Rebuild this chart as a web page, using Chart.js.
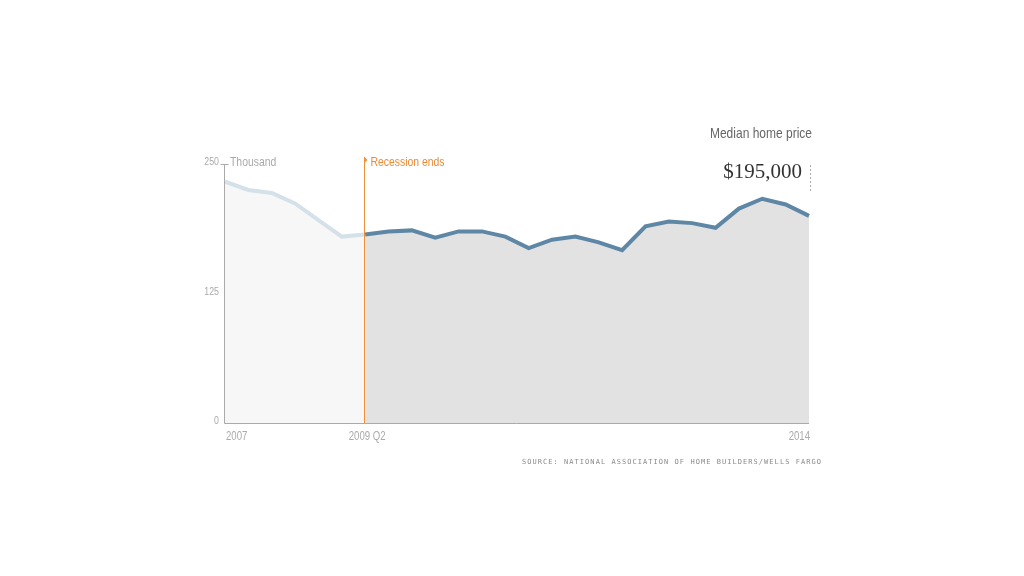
<!DOCTYPE html>
<html>
<head>
<meta charset="utf-8">
<script src="https://cdn.jsdelivr.net/npm/chart.js@4"></script>
<style>
  html, body { margin: 0; padding: 0; background: #fff; }
  #wrap { width: 1024px; height: 576px; position: relative; }
</style>
</head>
<body>
<div id="wrap"><canvas id="c" width="1024" height="576"></canvas></div>
<script>
// Quarterly periods, 2007 Q4 .. 2014 Q1
const categories = ["2007","2008 Q1","2008 Q2","2008 Q3","2008 Q4","2009 Q1","2009 Q2","2009 Q3","2009 Q4","2010 Q1","2010 Q2","2010 Q3","2010 Q4","2011 Q1","2011 Q2","2011 Q3","2011 Q4","2012 Q1","2012 Q2","2012 Q3","2012 Q4","2013 Q1","2013 Q2","2013 Q3","2013 Q4","2014"];
// Median home price, thousand dollars
const beforeRecessionEnd = [233, 225, 222, 212, 196, 180, 182];
const afterRecessionEnd = [182, 185, 186, 179, 185, 185, 180, 169, 177, 180, 174.5, 167, 190, 194.5, 193, 188.5, 207, 216.5, 211, 200];
const yTicks = [0, 125, 250];
const xTickLabels = {0: "2007", 6: "2009 Q2", 25: "2014"};
const recessionIndex = 6;
const yUnit = "Thousand";
const markerLabel = "Recession ends";
const title = "Median home price";
const lastValueLabel = "$195,000";
const sourceText = "SOURCE: NATIONAL ASSOCIATION OF HOME BUILDERS/WELLS FARGO";

const dataA = categories.map((_, i) => i < beforeRecessionEnd.length ? beforeRecessionEnd[i] : null);
const dataB = categories.map((_, i) => i >= recessionIndex ? afterRecessionEnd[i - recessionIndex] : null);

const SANS = '"Liberation Sans", Arial, sans-serif';
const SQUEEZE = 0.8;

// draw text horizontally condensed (still real text)
function narrowText(ctx, text, x, y, align, size, color) {
  ctx.save();
  ctx.font = size + 'px ' + SANS;
  ctx.fillStyle = color;
  ctx.textBaseline = 'middle';
  ctx.textAlign = align;
  ctx.translate(x, y);
  ctx.scale(SQUEEZE, 1);
  ctx.fillText(text, 0, 0);
  ctx.restore();
}

const decor = {
  id: 'decor',
  afterDatasetsDraw(chart) {
    const ctx = chart.ctx;
    const x = chart.scales.x, y = chart.scales.y;
    const area = chart.chartArea;
    ctx.save();
    // recession line
    const rx = Math.round(x.getPixelForValue(recessionIndex)) - 0.5;
    ctx.strokeStyle = '#f0913a';
    ctx.lineWidth = 1;
    ctx.beginPath();
    ctx.moveTo(rx, area.top - 7);
    ctx.lineTo(rx, area.bottom);
    ctx.stroke();

    // axes
    ctx.strokeStyle = '#aaaaaa';
    ctx.lineWidth = 1;
    const ax = Math.round(area.left) - 0.5;
    const ay = Math.round(area.bottom) + 0.5;
    ctx.beginPath();
    ctx.moveTo(ax, area.top);
    ctx.lineTo(ax, ay);
    ctx.lineTo(area.right, ay);
    ctx.stroke();
    // top tick
    const ty = Math.round(y.getPixelForValue(250)) + 0.5;
    ctx.beginPath();
    ctx.moveTo(ax - 4, ty);
    ctx.lineTo(ax + 4, ty);
    ctx.stroke();

    // y tick labels
    yTicks.forEach(v => {
      narrowText(ctx, String(v), area.left - 6, y.getPixelForValue(v) - 2, 'right', 11, '#aaaaaa');
    });
    // unit label
    narrowText(ctx, yUnit, area.left + 5, y.getPixelForValue(250) - 2, 'left', 13, '#aaaaaa');

    // x tick labels
    Object.keys(xTickLabels).forEach(k => {
      const i = +k;
      const px = x.getPixelForValue(i);
      let align = 'center', dx = 2;
      if (i === 0) { align = 'left'; dx = 1; }
      else if (i === categories.length - 1) { align = 'right'; dx = 1; }
      narrowText(ctx, xTickLabels[k], px + dx, area.bottom + 13, align, 12, '#aaaaaa');
    });

    // recession marker
    ctx.fillStyle = '#f0913a';
    ctx.beginPath();
    ctx.moveTo(rx, area.top - 7);
    ctx.lineTo(rx + 3, area.top - 4);
    ctx.lineTo(rx, area.top - 1);
    ctx.closePath();
    ctx.fill();
    narrowText(ctx, markerLabel, rx + 6, area.top - 2, 'left', 13, '#ec8a35');

    // title
    narrowText(ctx, title, area.right + 3, area.top - 30, 'right', 15, '#666666');

    // last value
    ctx.fillStyle = '#333333';
    ctx.font = '21px "Liberation Serif", "DejaVu Serif", serif';
    ctx.textAlign = 'right';
    ctx.textBaseline = 'middle';
    ctx.fillText(lastValueLabel, area.right - 7, area.top + 8);

    // dotted leader
    ctx.strokeStyle = '#aaaaaa';
    ctx.setLineDash([2, 2]);
    ctx.beginPath();
    ctx.moveTo(area.right + 1.5, area.top + 1);
    ctx.lineTo(area.right + 1.5, area.top + 29);
    ctx.stroke();
    ctx.setLineDash([]);

    // source
    ctx.fillStyle = '#8a8a8a';
    ctx.font = '7px "DejaVu Sans Mono", monospace';
    ctx.textAlign = 'right';
    if ('letterSpacing' in ctx) ctx.letterSpacing = '1.05px';
    ctx.fillText(sourceText, area.right + 13, area.bottom + 39);
    ctx.restore();
  }
};

new Chart(document.getElementById('c'), {
  type: 'line',
  data: {
    labels: categories,
    datasets: [
      {
        data: dataB,
        borderColor: '#5e87a6',
        backgroundColor: '#e2e2e2',
        borderWidth: 4,
        fill: 'origin',
        pointRadius: 0,
        tension: 0,
        spanGaps: false,
        borderJoinStyle: 'miter',
        order: 1
      },
      {
        data: dataA,
        borderColor: '#d5e1e9',
        backgroundColor: '#f7f7f7',
        borderWidth: 4,
        fill: 'origin',
        pointRadius: 0,
        tension: 0,
        spanGaps: false,
        order: 2
      }
    ]
  },
  options: {
    responsive: false,
    animation: false,
    layout: { padding: { left: 225, right: 215, top: 164, bottom: 152.7 } },
    plugins: { legend: { display: false }, tooltip: { enabled: false } },
    scales: {
      x: { display: false, offset: false },
      y: { display: false, min: 0, max: 250 }
    }
  },
  plugins: [decor]
});
</script>
</body>
</html>
